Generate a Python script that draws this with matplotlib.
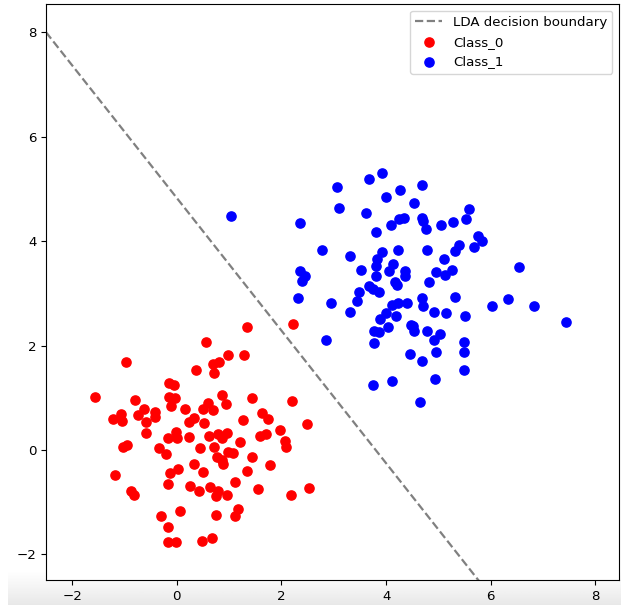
import numpy as np
import matplotlib
matplotlib.use("Agg")
import matplotlib.pyplot as plt

# Class_0 (red)
class0_x = [-0.97, 0.36, -0.15, -0.06, -1.57, -0.15, -0.03, -0.80, -0.12, 0.16,
            -0.62, -1.06, -0.41, -0.74, -0.41, -1.22, -1.04, -0.59, 0.33, 0.23,
            -0.58, -0.01, -0.16, 0.01, 0.23, -1.02, -0.95, -0.35, -0.21, 0.44,
            0.32, 0.02, -0.13, -1.18, -0.16, 0.25, 0.43, -0.87, -0.81, 0.06,
            -0.31, -0.16, -0.17, -0.02, 1.35, 2.22, 0.56, 0.97, 1.29, 0.70,
            0.80, 0.71, 0.87, 1.43, 0.94, 2.21, 0.59, 0.50, 0.69, 1.62,
            1.74, 1.27, 0.52, 2.49, 1.97, 1.70, 1.59, 0.95, 0.78, 0.62,
            1.20, 2.07, 0.87, 2.08, 0.71, 0.97, 1.07, 0.76, 0.86, 0.88,
            1.43, 1.79, 0.50, 1.34, 1.11, 0.64, 0.78, 0.74, 0.96, 1.55,
            2.19, 2.52, 1.16, 1.11, 0.74, 0.49, 0.67]
class0_y = [1.68, 1.53, 1.28, 1.25, 1.01, 1.02, 1.00, 0.95, 0.85, 0.79,
            0.78, 0.69, 0.73, 0.67, 0.63, 0.59, 0.56, 0.54, 0.62, 0.54,
            0.32, 0.34, 0.23, 0.23, 0.25, 0.06, 0.10, 0.04, -0.08, 0.03,
            -0.27, -0.36, -0.45, -0.48, -0.65, -0.69, -0.79, -0.79, -0.87, -1.16,
            -1.26, -1.47, -1.77, -1.77, 2.35, 2.42, 2.06, 1.82, 1.82, 1.64,
            1.68, 1.48, 1.06, 0.99, 0.88, 0.94, 0.90, 0.78, 0.77, 0.71,
            0.60, 0.58, 0.52, 0.50, 0.38, 0.31, 0.26, 0.33, 0.30, 0.26,
            0.15, 0.18, 0.22, 0.06, 0.06, -0.04, -0.05, -0.14, -0.20, -0.27,
            -0.13, -0.29, -0.42, -0.41, -0.61, -0.71, -0.78, -0.89, -0.86, -0.75,
            -0.87, -0.73, -1.13, -1.27, -1.24, -1.74, -1.68]

# Class_1 (blue)
class1_x = [3.92, 3.67, 3.07, 4.27, 4.00, 3.09, 3.61, 2.35, 4.24, 4.35,
            4.09, 3.80, 2.77, 3.31, 3.93, 4.22, 3.82, 3.81, 4.14, 3.52,
            2.36, 2.44, 2.40, 4.05, 3.81, 2.31, 2.94, 3.49, 3.45, 3.68,
            3.75, 3.86, 4.16, 4.20, 3.31, 4.12, 4.23, 4.00, 3.89, 4.19,
            3.77, 3.87, 4.04, 2.85, 3.76, 3.75, 4.11, 4.69, 4.54, 5.59,
            4.68, 4.70, 4.77, 5.04, 5.28, 5.53, 5.76, 5.83, 5.67, 5.40,
            5.31, 4.78, 5.10, 4.36, 4.37, 4.95, 5.25, 5.13, 4.82, 6.53,
            5.31, 4.69, 4.71, 6.02, 6.33, 6.82, 7.44, 4.40, 4.92, 5.15,
            5.50, 4.47, 4.52, 4.54, 4.78, 5.02, 4.92, 4.46, 4.69, 4.95,
            5.48, 5.48, 5.48, 4.94, 4.65, 1.03]
class1_y = [5.30, 5.18, 5.04, 4.98, 4.84, 4.63, 4.54, 4.34, 4.43, 4.44,
            4.31, 4.17, 3.83, 3.71, 3.80, 3.83, 3.65, 3.53, 3.57, 3.44,
            3.43, 3.33, 3.23, 3.42, 3.33, 2.91, 2.81, 3.02, 2.86, 3.14,
            3.08, 3.02, 3.22, 3.16, 2.64, 2.77, 2.81, 2.62, 2.50, 2.56,
            2.28, 2.26, 2.35, 2.11, 2.05, 1.24, 1.33, 5.08, 4.73, 4.61,
            4.45, 4.38, 4.24, 4.30, 4.36, 4.43, 4.10, 4.00, 3.88, 3.93,
            3.81, 3.83, 3.66, 3.42, 3.33, 3.41, 3.44, 3.35, 3.22, 3.50,
            2.93, 2.91, 2.76, 2.76, 2.90, 2.76, 2.45, 2.81, 2.64, 2.63,
            2.56, 2.39, 2.37, 2.27, 2.28, 2.23, 2.10, 1.83, 1.71, 1.88,
            2.06, 1.87, 1.53, 1.35, 0.91, 4.48]

# LDA decision boundary: w0*x + w1*y + b = 0
lda_w = [1.27, 1.0]
lda_b = -4.825

x_limits = (-2.5, 8.45)
y_limits = (-2.49, 8.54)

plt.rcParams["font.size"] = 9.6

DPI = 100
fig = plt.figure(figsize=(621 / DPI, 605 / DPI), dpi=DPI)

# subtle grey screenshot gradient at the bottom
bg = fig.add_axes([8 / 621, 0, 1 - 8 / 621, 34 / 605], zorder=-5)
grad = np.linspace(1.0, 0.91, 64).reshape(-1, 1)
bg.imshow(np.repeat(grad, 2, axis=1), cmap="gray", vmin=0, vmax=1,
          aspect="auto", extent=(0, 1, 0, 1), origin="upper")
bg.axis("off")

ax = fig.add_axes([46 / 621, 1 - 580 / 605, (619 - 46) / 621, (580 - 4) / 605])

xs = np.array(x_limits)
ys = -(lda_w[0] * xs + lda_b) / lda_w[1]
ax.plot(xs, ys, linestyle="--", color="gray", linewidth=1.6,
        label="LDA decision boundary")
ax.scatter(class0_x, class0_y, color="red", s=44, label="Class_0")
ax.scatter(class1_x, class1_y, color="blue", s=44, label="Class_1")

ax.set_xlim(*x_limits)
ax.set_ylim(*y_limits)
ax.set_xticks([-2, 0, 2, 4, 6, 8])
ax.set_yticks([-2, 0, 2, 4, 6, 8])
ax.legend(loc="upper right")

fig.savefig("out.png", dpi=DPI)
